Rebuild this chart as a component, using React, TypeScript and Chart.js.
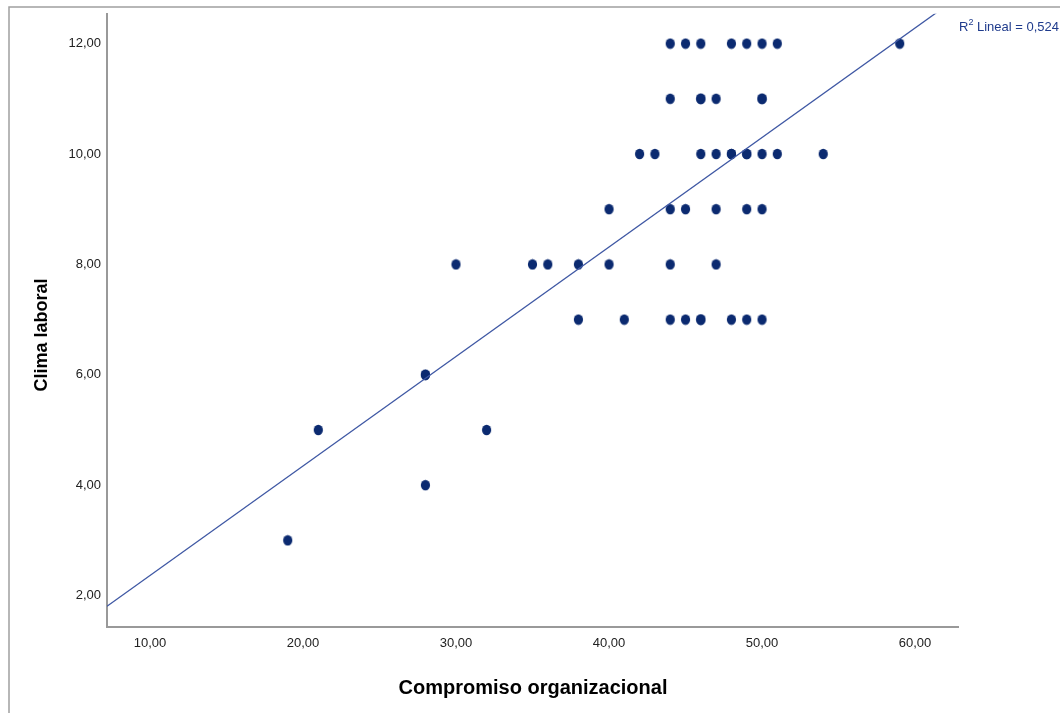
import React, { useEffect, useRef } from "react";
import { Chart, registerables } from "chart.js";

Chart.register(...registerables);

// Compromiso organizacional (x) vs Clima laboral (y)
const compromiso: number[] = [
  44, 45, 46, 48, 49, 50, 51, 59,
  44, 46, 46, 47, 50, 50,
  42, 43, 46, 47, 48, 48, 49, 49, 50, 51, 54,
  40, 44, 45, 47, 49, 50,
  30, 35, 36, 38, 40, 44, 47,
  38, 41, 44, 45, 46, 46, 48, 49, 50,
  28, 28,
  21, 32,
  28,
  19,
];
const clima: number[] = [
  12, 12, 12, 12, 12, 12, 12, 12,
  11, 11, 11, 11, 11, 11,
  10, 10, 10, 10, 10, 10, 10, 10, 10, 10, 10,
  9, 9, 9, 9, 9, 9,
  8, 8, 8, 8, 8, 8, 8,
  7, 7, 7, 7, 7, 7, 7, 7, 7,
  6, 6,
  5, 5,
  4,
  3,
];

const xTicks: number[] = [10, 20, 30, 40, 50, 60];
const yTicks: number[] = [2, 4, 6, 8, 10, 12];
const xMin = 7.19;
const xMax = 62.81;
const yMin = 1.43;
const yMax = 12.54;

// Linear fit
const fitSlope = 0.1984;
const fitIntercept = 0.378;
const r2Label = "0,524";

const fmt = (v: number) => v.toFixed(2).replace(".", ",");

function makeDot(color: string) {
  const c = document.createElement("canvas");
  c.width = 11;
  c.height = 12;
  const g = c.getContext("2d")!;
  g.fillStyle = color;
  g.beginPath();
  g.ellipse(5.5, 6, 4.6, 5.3, 0, 0, Math.PI * 2);
  g.fill();
  return c;
}

export default function App() {
  const ref = useRef<HTMLCanvasElement | null>(null);

  useEffect(() => {
    if (!ref.current) return;
    const points = compromiso.map((x, i) => ({ x, y: clima[i] }));
    const fit = [xMin, xMax].map((x) => ({ x, y: fitIntercept + fitSlope * x }));
    const dot = makeDot("#0b2a70");

    const decor = {
      id: "decor",
      beforeDraw(chart: any) {
        const ctx = chart.ctx;
        ctx.save();
        ctx.fillStyle = "#ffffff";
        ctx.fillRect(0, 0, chart.width, chart.height);
        ctx.strokeStyle = "#a0a0a0";
        ctx.lineWidth = 1.5;
        ctx.beginPath();
        ctx.moveTo(9, chart.height);
        ctx.lineTo(9, 7);
        ctx.lineTo(chart.width, 7);
        ctx.stroke();
        ctx.restore();
      },
      afterDraw(chart: any) {
        const ctx = chart.ctx;
        ctx.save();
        ctx.fillStyle = "#000000";
        ctx.textAlign = "center";
        ctx.textBaseline = "middle";
        ctx.font = "bold 20px 'Liberation Sans', Arial, sans-serif";
        ctx.fillText("Compromiso organizacional", 533, 688);
        ctx.font = "bold 18px 'Liberation Sans', Arial, sans-serif";
        ctx.translate(42, 335);
        ctx.rotate(-Math.PI / 2);
        ctx.fillText("Clima laboral", 0, 0);
        ctx.restore();

        ctx.save();
        ctx.fillStyle = "#1f3b8c";
        ctx.textBaseline = "alphabetic";
        ctx.textAlign = "left";
        ctx.font = "13px 'Liberation Sans', Arial, sans-serif";
        let x = 959;
        const y = 31;
        ctx.fillText("R", x, y);
        x += ctx.measureText("R").width;
        ctx.font = "9px 'Liberation Sans', Arial, sans-serif";
        ctx.fillText("2", x, y - 6);
        x += ctx.measureText("2").width;
        ctx.font = "13px 'Liberation Sans', Arial, sans-serif";
        ctx.fillText(" Lineal = " + r2Label, x, y);
        ctx.restore();
      },
    };

    const chart = new Chart(ref.current, {
      type: "scatter",
      data: {
        datasets: [
          {
            type: "line",
            data: fit,
            borderColor: "#3f58a4",
            borderWidth: 1.3,
            pointRadius: 0,
            fill: false,
          } as any,
          {
            data: points,
            pointStyle: dot as any,
            backgroundColor: "#0b2a70",
            borderColor: "#0b2a70",
            borderWidth: 0,
            pointRadius: 5,
            pointHoverRadius: 5,
          },
        ],
      },
      options: {
        animation: false,
        responsive: false,
        maintainAspectRatio: false,
        events: [],
        layout: { padding: { left: 0, top: 13, right: 102, bottom: 0 } },
        plugins: { legend: { display: false }, tooltip: { enabled: false } },
        scales: {
          x: {
            type: "linear",
            min: xMin,
            max: xMax,
            afterBuildTicks: (s: any) => {
              s.ticks = xTicks.map((v) => ({ value: v }));
            },
            afterFit: (s: any) => {
              s.height = 86;
            },
            grid: { display: false, drawTicks: false },
            border: { display: true, color: "#999999", width: 2 },
            ticks: {
              padding: 9,
              color: "#222222",
              font: { family: "'Liberation Sans', Arial, sans-serif", size: 13 },
              callback: (v: any) => fmt(Number(v)),
              maxRotation: 0,
            },
          },
          y: {
            type: "linear",
            min: yMin,
            max: yMax,
            afterBuildTicks: (s: any) => {
              s.ticks = yTicks.map((v) => ({ value: v }));
            },
            afterFit: (s: any) => {
              s.width = 107;
            },
            grid: { display: false, drawTicks: false },
            border: { display: true, color: "#999999", width: 2 },
            ticks: {
              padding: 6,
              color: "#222222",
              font: { family: "'Liberation Sans', Arial, sans-serif", size: 13 },
              callback: (v: any) => fmt(Number(v)),
            },
          },
        },
      },
      plugins: [decor],
    });
    return () => chart.destroy();
  }, []);

  return (
    <div style={{ position: "fixed", left: 0, top: 0, width: 1060, height: 713, background: "#fff" }}>
      <canvas ref={ref} width={1060} height={713} style={{ display: "block" }} />
    </div>
  );
}
